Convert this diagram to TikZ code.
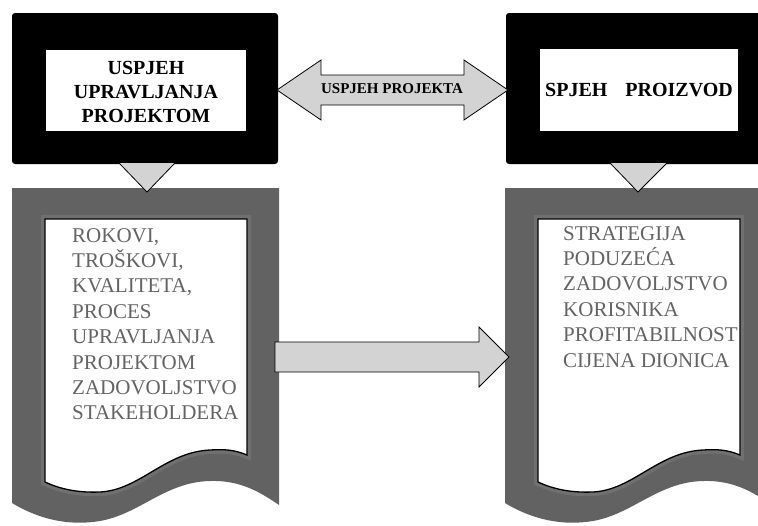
\documentclass[tikz,border=0pt]{standalone}
\usepackage{fontspec}
\setmainfont{Liberation Serif}
\definecolor{docgray}{RGB}{98,98,98}
\definecolor{bevelgray}{RGB}{112,112,112}
\definecolor{arrowgray}{RGB}{211,211,211}
\definecolor{textgray}{RGB}{100,100,100}
\tikzset{
  blackbox/.style={fill=black, rounded corners=3pt},
  whitebox/.style={fill=white},
  arrowshape/.style={fill=arrowgray, draw=black, line width=0.8pt, line join=miter},
  arrowedge/.style={draw=black, line width=0.8pt},
  docframe/.style={fill=docgray},
  docbevel/.style={draw=bevelgray, line width=8pt},
  docinner/.style={fill=white, draw=black, line width=1.3pt},
  titletext/.style={font=\bfseries\fontsize{20}{24}\selectfont, align=center, inner sep=0pt},
  labeltext/.style={font=\bfseries\fontsize{15}{18}\selectfont, inner sep=0pt},
  listtext/.style={font=\fontsize{21}{25.4}\selectfont, align=left, inner sep=0pt, text=textgray, anchor=north west}
}
\begin{document}
\begin{tikzpicture}[x=1pt,y=-1pt]
\useasboundingbox (0,0) rectangle (758,525);
\clip (0,0) rectangle (758,525);

% documents
\foreach \dx in {0,493} {
  \begin{scope}[xshift=\dx pt]
    \path[docframe] (12,188) -- (279,188) -- (279,505)
      .. controls (260,492) and (240,480) .. (210,481)
      .. controls (165,482) and (140,514) .. (100,521)
      .. controls (70,526) and (40,520) .. (12,503) -- cycle;
    \path[docbevel] (45,219) -- (247,219) -- (247,455)
      .. controls (235,450) and (225,449) .. (210,450)
      .. controls (165,452) and (140,490) .. (100,492)
      .. controls (75,493) and (58,488) .. (45,482) -- cycle;
    \path[docinner] (45,219) -- (247,219) -- (247,455)
      .. controls (235,450) and (225,449) .. (210,450)
      .. controls (165,452) and (140,490) .. (100,492)
      .. controls (75,493) and (58,488) .. (45,482) -- cycle;
  \end{scope}
}

% black boxes
\path[blackbox] (12,13) rectangle (278,164);
\path[whitebox] (46,50) rectangle (246,131);
\path[blackbox] (506,13) rectangle (790,164);
\path[whitebox] (540,49) rectangle (738,131);

% down triangles
\fill[arrowgray] (119,163) -- (147,192) -- (175,163) -- cycle;
\draw[arrowedge] (119,163) -- (147,192) -- (175,163);
\fill[arrowgray] (610,163) -- (638,192) -- (667,163) -- cycle;
\draw[arrowedge] (610,163) -- (638,192) -- (667,163);

% double arrow
\draw[arrowshape] (277,90) -- (321,60) -- (321,75) -- (464,75) -- (464,60) -- (508,90)
  -- (464,120) -- (464,105) -- (321,105) -- (321,120) -- cycle;

% right arrow
\draw[arrowshape] (275,342) -- (479,342) -- (479,327) -- (509,357) -- (479,387)
  -- (479,372) -- (275,372) -- cycle;

% texts
\node[titletext] (ltitle) at (146,92) {USPJEH\\UPRAVLJANJA\\PROJEKTOM};
\node[titletext] (rtitle) at (639,90) {SPJEH\hspace{18pt}PROIZVOD};
\node[labeltext] (alabel) at (392,89) {USPJEH PROJEKTA};
\node[listtext] (llist) at (72,228) {ROKOVI,\\TROŠKOVI,\\KVALITETA,\\PROCES\\UPRAVLJANJA\\PROJEKTOM\\ZADOVOLJSTVO\\STAKEHOLDERA};
\begin{scope}
  \clip (537,219) rectangle (738,455);
  \node[listtext] (rlist) at (563,226) {STRATEGIJA\\PODUZEĆA\\ZADOVOLJSTVO\\KORISNIKA\\PROFITABILNOST\\CIJENA DIONICA};
\end{scope}
\end{tikzpicture}
\end{document}
